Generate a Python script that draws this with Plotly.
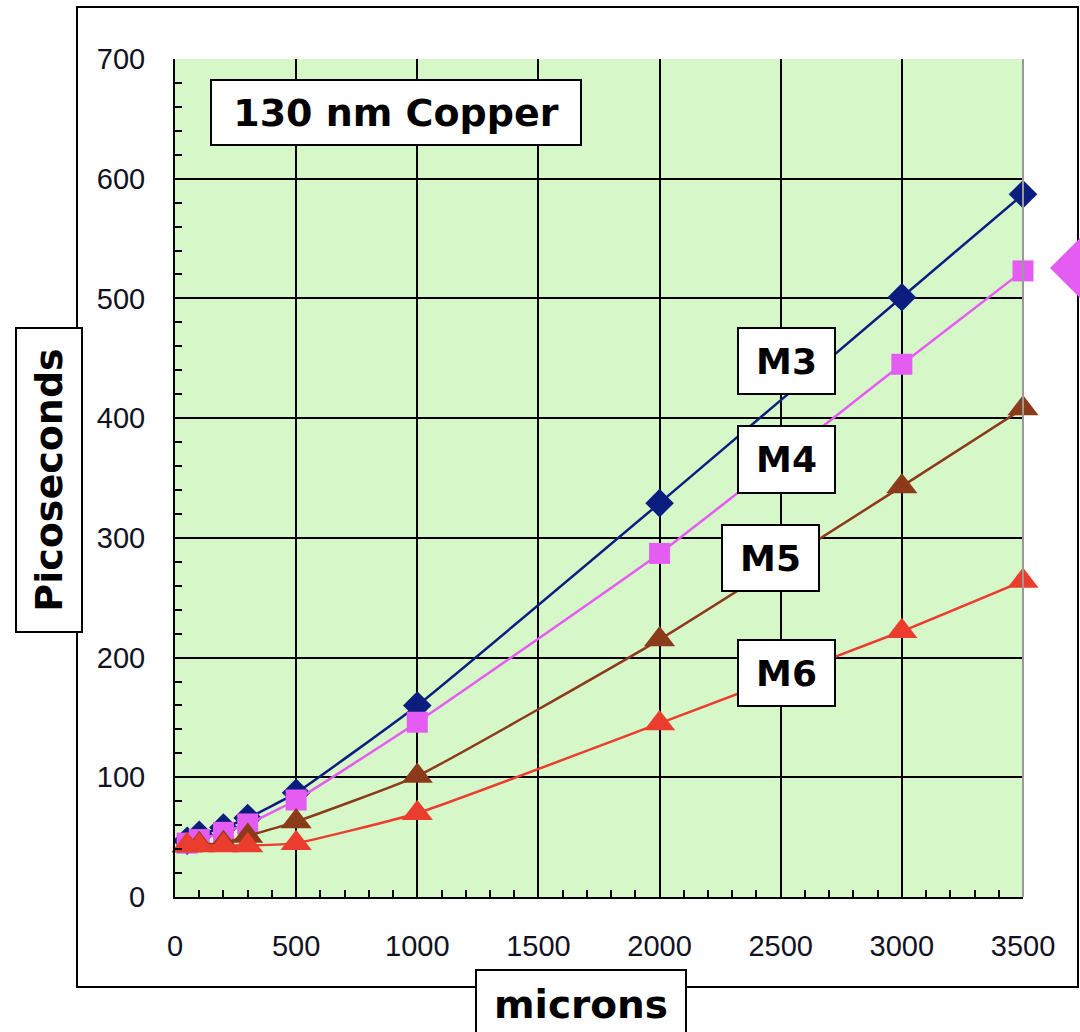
import plotly.graph_objects as go

# ---- data ----
microns = [50, 100, 200, 300, 500, 1000, 2000, 3000, 3500]
m3 = [47, 52, 58, 66, 87, 160, 329, 501, 587]
m4 = [45, 48, 54, 61, 81, 146, 287, 445, 523]
m5 = [43, 44, 45, 51, 63, 101, 215, 343, 408]
m6 = [43, 43, 43, 43, 45, 70, 145, 222, 264]
series_names = ["M3", "M4", "M5", "M6"]
x_ticks = [0, 500, 1000, 1500, 2000, 2500, 3000, 3500]
y_ticks = [0, 100, 200, 300, 400, 500, 600, 700]

W, H = 1080, 1032
L, R, T, B = 175, 1023, 59, 897


def px(x):
    return (x - L) / (R - L)


def py(y):
    return (B - y) / (B - T)


fig = go.Figure()
styles = [
    dict(color="#0B1E80", symbol="diamond", size=22),
    dict(color="#E55CF2", symbol="square", size=21),
    dict(color="#8B3A1A", symbol="triangle-up", size=27),
    dict(color="#EA3D2E", symbol="triangle-up", size=27),
]
for name, vals, st in zip(series_names, [m3, m4, m5, m6], styles):
    fig.add_trace(go.Scatter(
        x=microns, y=vals, name=name, mode="lines+markers",
        line=dict(color=st["color"], width=2.5, shape="spline", smoothing=0.4),
        marker=dict(color=st["color"], symbol=st["symbol"], size=st["size"],
                    line=dict(width=0)),
        cliponaxis=False,
    ))


def bold(sz):
    return dict(family="DejaVu Sans", size=sz, color="black")


boxes = [
    ("130 nm Copper", 396, 112.5, 372, 67, 38),
    ("M3", 786.5, 361, 99, 68, 36),
    ("M4", 786.5, 459.5, 99, 69, 36),
    ("M5", 770.5, 558, 99, 68, 36),
    ("M6", 786.5, 673, 99, 68, 36),
]
annotations = []
for text, cx, cy, w, h, sz in boxes:
    annotations.append(dict(
        text="<b>%s</b>" % text, x=px(cx), y=py(cy), xref="paper", yref="paper",
        showarrow=False, font=bold(sz), bgcolor="white", bordercolor="black",
        borderwidth=2, borderpad=0, width=w - 4, height=h - 4,
        xanchor="center", yanchor="middle",
    ))
# axis titles
annotations.append(dict(
    text="<b>microns</b>", x=px(581), y=py(1004), xref="paper", yref="paper",
    showarrow=False, font=bold(39), bgcolor="white", bordercolor="black",
    borderwidth=2, borderpad=0, width=208, height=66,
    xanchor="center", yanchor="middle",
))
annotations.append(dict(
    text="<b>Picoseconds</b>", x=px(49), y=py(480), xref="paper", yref="paper",
    showarrow=False, font=bold(38), bgcolor="white", bordercolor="black",
    borderwidth=2, borderpad=0, width=302, height=64, textangle=-90,
    xanchor="center", yanchor="middle",
))

shapes = [
    # outer frame
    dict(type="rect", xref="paper", yref="paper", x0=px(77), x1=px(1078),
         y0=py(987), y1=py(7), line=dict(color="black", width=2), layer="below"),
    # right plot border (gray)
    dict(type="line", xref="paper", yref="paper", x0=1, x1=1, y0=0, y1=1,
         line=dict(color="#9A9A9A", width=2)),
    # partial legend diamond at right edge
    dict(type="path", xref="paper", yref="paper",
         path="M %f %f L %f %f L %f %f L %f %f Z" % (
             px(1050), py(268), px(1088), py(230), px(1126), py(268), px(1088), py(306)),
         fillcolor="#E55CF2", line=dict(width=0)),
]

tickfont = dict(family="Liberation Sans", size=29, color="#111122")
fig.update_layout(
    width=W, height=H,
    margin=dict(l=L, r=W - R, t=T, b=H - B),
    paper_bgcolor="white", plot_bgcolor="#D6F7C8",
    showlegend=False,
    annotations=annotations, shapes=shapes,
    xaxis=dict(range=[0, 3500], tickvals=x_ticks, ticks="inside", ticklen=8,
               tickwidth=2, tickcolor="black",
               showgrid=True, gridcolor="black", gridwidth=2,
               showline=True, linecolor="black", linewidth=2,
               zeroline=False, tickfont=tickfont, ticklabelstandoff=22,
               minor=dict(dtick=100, ticks="inside", ticklen=7, tickwidth=2,
                          tickcolor="black", showgrid=False)),
    yaxis=dict(range=[0, 700], tickvals=y_ticks, ticks="inside", ticklen=8,
               tickwidth=2, tickcolor="black",
               showgrid=True, gridcolor="black", gridwidth=2,
               showline=True, linecolor="black", linewidth=2,
               zeroline=False, tickfont=tickfont, ticklabelstandoff=22,
               minor=dict(dtick=20, ticks="inside", ticklen=7, tickwidth=2,
                          tickcolor="black", showgrid=False)),
)

fig.write_html("out.html", config={"displayModeBar": False},
               post_script="document.body.style.margin='0';document.body.style.overflow='hidden';")
